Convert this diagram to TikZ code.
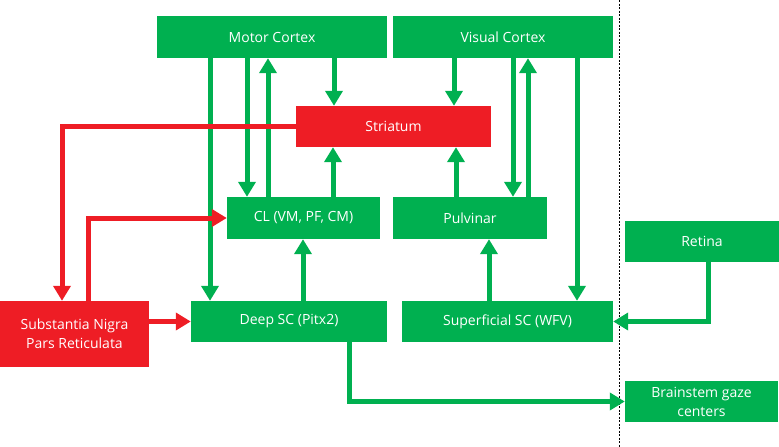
\documentclass[tikz,border=0pt]{standalone}
\usepackage{fontspec}
\setmainfont{Open Sans}
\usetikzlibrary{arrows.meta}
\definecolor{gbox}{HTML}{00B050}
\definecolor{rbox}{HTML}{EE1D25}
\tikzset{
  gnode/.style={fill=gbox, draw=none, text=white, inner sep=0pt, font=\fontsize{14}{19}\selectfont, align=center},
  rnode/.style={fill=rbox, draw=none, text=white, inner sep=0pt, font=\fontsize{14}{19}\selectfont, align=center},
  garrow/.style={draw=gbox, line width=5pt, -{Triangle[width=17pt,length=15pt]}},
  rarrow/.style={draw=rbox, line width=5pt, -{Triangle[width=17pt,length=15pt]}},
}
\begin{document}
\begin{tikzpicture}[x=1pt,y=-1pt]
\useasboundingbox (0,0) rectangle (779,447);
\node[gnode, minimum width=230pt, minimum height=42pt] (mc) at (272,37) {Motor Cortex};
\node[gnode, minimum width=220pt, minimum height=42pt] (vc) at (503,37) {Visual Cortex};
\node[rnode, minimum width=195pt, minimum height=41pt] (str) at (393.5,126.5) {Striatum};
\node[gnode, minimum width=153pt, minimum height=42pt] (cl) at (303.5,218) {CL (VM, PF, CM)};
\node[gnode, minimum width=154pt, minimum height=42pt] (pul) at (470,218) {Pulvinar};
\node[gnode, minimum width=154pt, minimum height=41pt] (ret) at (702,241.5) {Retina};
\node[gnode, minimum width=196pt, minimum height=41pt] (dsc) at (289,321.5) {Deep SC (Pitx2)};
\node[gnode, minimum width=211pt, minimum height=41pt] (ssc) at (507.5,321.5) {Superficial SC (WFV)};
\node[rnode, minimum width=149pt, minimum height=66pt] (snr) at (74.5,334) {Substantia Nigra\\Pars Reticulata};
\node[gnode, minimum width=153pt, minimum height=41pt] (bgc) at (701.5,401.5) {Brainstem gaze\\centers};

\draw[black, line width=1pt, dash pattern=on 2pt off 1.5pt] (619,0) -- (619,447);

% Motor cortex connections
\draw[garrow] (210,0 |- mc.south) -- (210,0 |- dsc.north);
\draw[garrow] (247,0 |- mc.south) -- (247,0 |- cl.north);
\draw[garrow] (268,0 |- cl.north) -- (268,0 |- mc.south);
\draw[garrow] (334,0 |- mc.south) -- (334,0 |- str.north);
% Visual cortex connections
\draw[garrow] (454,0 |- vc.south) -- (454,0 |- str.north);
\draw[garrow] (513,0 |- vc.south) -- (513,0 |- pul.north);
\draw[garrow] (528,0 |- pul.north) -- (528,0 |- vc.south);
\draw[garrow] (577,0 |- vc.south) -- (577,0 |- ssc.north);
% thalamus to striatum
\draw[garrow] (333,0 |- cl.north) -- (333,0 |- str.south);
\draw[garrow] (456,0 |- pul.north) -- (456,0 |- str.south);
% SC to thalamus
\draw[garrow] (303,0 |- dsc.north) -- (303,0 |- cl.south);
\draw[garrow] (489,0 |- ssc.north) -- (489,0 |- pul.south);
% retina, brainstem
\draw[garrow] (708,0 |- ret.south) |- (ssc.east);
\draw[garrow] (349,0 |- dsc.south) |- (bgc.west);
% SNr
\draw[rarrow] (snr.east |- dsc.west) -- (dsc.west);
\draw[rarrow] (str.west) -| (62,0 |- snr.north);
\draw[rarrow] (88,0 |- snr.north) |- (cl.west);
\end{tikzpicture}
\end{document}
